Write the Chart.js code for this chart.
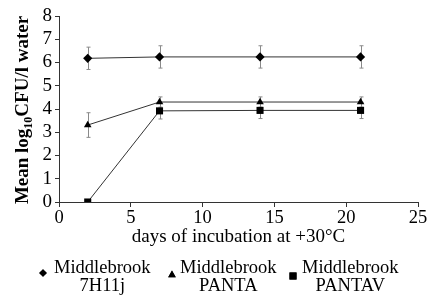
<!DOCTYPE html>
<html><head><meta charset="utf-8">
<script src="https://cdn.jsdelivr.net/npm/chart.js@4/dist/chart.umd.min.js"></script>
<style>html,body{margin:0;padding:0;background:#fff}#wrap{width:427px;height:298px}</style>
</head><body><div id="wrap"><canvas id="c" width="427" height="298"></canvas></div>
<script>
const days = [2, 7, 14, 21];
const seriesNames = [["Middlebrook", "7H11j"], ["Middlebrook", "PANTA"], ["Middlebrook", "PANTAV"]];
const h7h11j = [6.18, 6.24, 6.24, 6.24];
const panta = [3.31, 4.3, 4.3, 4.3];
const pantav = [0, 3.92, 3.94, 3.94];
const err7h11j = [0.48, 0.48, 0.48, 0.48];
const errPanta = [0.53, 0.22, 0.22, 0.22];
const errPantav = [0, 0.35, 0.35, 0.35];
const xTicks = [0, 5, 10, 15, 20, 25];
const yTicks = [0, 1, 2, 3, 4, 5, 6, 7, 8];
const xTitle = "days of incubation at +30°C";
const yTitleParts = ["Mean log", "10", "CFU/l water"];

const FONT = "'Liberation Serif', 'Times New Roman', serif";
const styles = [
  {pointStyle: 'rectRot', radius: 4.6},
  {pointStyle: 'triangle', radius: 4.4},
  {pointStyle: 'rect', radius: 5}
];
const values = [h7h11j, panta, pantav];
const errs = [err7h11j, errPanta, errPantav];

const datasets = values.map((v, i) => ({
  label: seriesNames[i].join(' '),
  data: days.map((d, j) => ({x: d, y: v[j]})),
  errors: errs[i],
  borderColor: '#333',
  borderWidth: 1,
  backgroundColor: '#000',
  pointBackgroundColor: '#000',
  pointBorderColor: '#000',
  pointBorderWidth: 0,
  pointStyle: styles[i].pointStyle,
  pointRadius: styles[i].radius,
  showLine: true,
  tension: 0
}));

const extras = {
  id: 'extras',
  beforeDatasetsDraw(chart) {
    const ctx = chart.ctx, xs = chart.scales.x, ys = chart.scales.y;
    ctx.save();
    ctx.strokeStyle = '#8a8a8a';
    ctx.lineWidth = 1;
    chart.data.datasets.forEach(ds => {
      ds.data.forEach((p, j) => {
        const e = ds.errors[j];
        if (!e) return;
        const px = Math.round(xs.getPixelForValue(p.x)) + 0.5;
        const top = ys.getPixelForValue(p.y + e);
        const bot = ys.getPixelForValue(p.y - e);
        ctx.beginPath();
        ctx.moveTo(px, top); ctx.lineTo(px, bot);
        ctx.moveTo(px - 2, top); ctx.lineTo(px + 2, top);
        ctx.moveTo(px - 2, bot); ctx.lineTo(px + 2, bot);
        ctx.stroke();
      });
    });
    ctx.restore();
  },
  afterDraw(chart) {
    const ctx = chart.ctx, ca = chart.chartArea;
    ctx.save();
    // y title with subscript
    const big = "bold 19px " + FONT, small = "bold 12px " + FONT;
    ctx.font = big; const w1 = ctx.measureText(yTitleParts[0]).width;
    const w3 = ctx.measureText(yTitleParts[2]).width;
    ctx.font = small; const w2 = ctx.measureText(yTitleParts[1]).width;
    const total = w1 + w2 + w3;
    ctx.translate(28, (ca.top + ca.bottom) / 2 + 1);
    ctx.rotate(-Math.PI / 2);
    ctx.fillStyle = '#000';
    ctx.textBaseline = 'alphabetic';
    let x = -total / 2;
    ctx.font = big; ctx.fillText(yTitleParts[0], x, 0); x += w1;
    ctx.font = small; ctx.fillText(yTitleParts[1], x, 4); x += w2;
    ctx.font = big; ctx.fillText(yTitleParts[2], x, 0);
    ctx.restore();

    // legend
    ctx.save();
    ctx.fillStyle = '#000';
    ctx.font = "18.5px " + FONT;
    ctx.textBaseline = 'alphabetic';
    const items = [
      {mx: 43, my: 273, tx: 54, r: 3.8},
      {mx: 172, my: 275, tx: 180, r: 4.4},
      {mx: 293, my: 276, tx: 302, r: 5}
    ];
    items.forEach((it, i) => {
      Chart.helpers.drawPoint(ctx, {pointStyle: styles[i].pointStyle, radius: it.r, borderWidth: 0}, it.mx, it.my);
      ctx.fill();
      ctx.textAlign = 'left';
      const l1 = seriesNames[i][0];
      const w = ctx.measureText(l1).width;
      ctx.fillText(l1, it.tx, 273);
      ctx.textAlign = 'center';
      ctx.fillText(seriesNames[i][1], it.tx + w / 2, 291);
    });
    ctx.restore();
  }
};

new Chart(document.getElementById('c'), {
  type: 'scatter',
  data: {datasets},
  options: {
    responsive: false,
    animation: false,
    devicePixelRatio: 1,
    layout: {padding: {top: 16, right: 9, left: 0, bottom: 0}},
    plugins: {legend: {display: false}, tooltip: {enabled: false}},
    scales: {
      x: {
        type: 'linear', min: 0, max: 25,
        afterBuildTicks: s => { s.ticks = xTicks.map(v => ({value: v})); },
        afterFit: s => { s.height = 96; s.paddingLeft = 0; s.paddingRight = 0; },
        grid: {drawOnChartArea: false, drawTicks: true, tickLength: 5, color: '#333', tickColor: '#333'},
        border: {color: '#333', width: 1},
        ticks: {color: '#000', font: {family: FONT, size: 18.5}, padding: 0, maxRotation: 0, autoSkip: false},
        title: {display: true, text: xTitle, color: '#000', font: {family: FONT, size: 19}, padding: {top: 0, bottom: 50}}
      },
      y: {
        type: 'linear', min: 0, max: 8,
        afterBuildTicks: s => { s.ticks = yTicks.map(v => ({value: v})); },
        afterFit: s => { s.width = 59; s.paddingTop = 0; s.paddingBottom = 0; },
        grid: {drawOnChartArea: false, drawTicks: true, tickLength: 4, color: '#333', tickColor: '#333'},
        border: {color: '#333', width: 1},
        ticks: {color: '#000', font: {family: FONT, size: 19}, padding: 3, autoSkip: false}
      }
    }
  },
  plugins: [extras]
});
</script></body></html>
